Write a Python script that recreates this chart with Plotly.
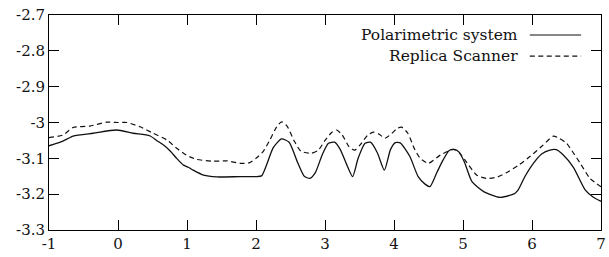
import plotly.graph_objects as go

# Polarimetric system (solid)
polar_x = [-1, -0.8, -0.65, -0.36, -0.02, 0.22, 0.46, 0.56, 0.66, 0.76, 0.85, 0.95, 1.02, 1.09,
           1.24, 1.43, 1.77, 2.0, 2.08, 2.15, 2.25, 2.37, 2.48, 2.6, 2.7, 2.78, 2.86, 2.96, 3.05,
           3.14, 3.22, 3.32, 3.40, 3.48, 3.58, 3.66, 3.76, 3.86, 3.95, 4.02, 4.09, 4.23, 4.35,
           4.45, 4.52, 4.62, 4.71, 4.8, 4.87, 4.94, 5.02, 5.13, 5.3, 5.54, 5.7, 5.75, 5.8, 5.9,
           6.02, 6.14, 6.26, 6.35, 6.45, 6.6, 6.77, 6.88, 7.0]
polar_y = [-3.065, -3.052, -3.038, -3.03, -3.021, -3.03, -3.037, -3.05, -3.063, -3.08, -3.1,
           -3.119, -3.125, -3.133, -3.147, -3.152, -3.151, -3.151, -3.149, -3.12, -3.07, -3.046,
           -3.055, -3.11, -3.15, -3.156, -3.14, -3.09, -3.058, -3.055, -3.075, -3.12, -3.151,
           -3.1, -3.058, -3.055, -3.085, -3.133, -3.075, -3.056, -3.057, -3.095, -3.151, -3.172,
           -3.179, -3.14, -3.105, -3.078, -3.075, -3.082, -3.11, -3.165, -3.193, -3.209, -3.202,
           -3.198, -3.188, -3.15, -3.114, -3.088, -3.077, -3.076, -3.09, -3.125, -3.188, -3.207,
           -3.22]

# Replica Scanner (dashed)
replica_x = [-1, -0.8, -0.65, -0.41, -0.16, 0, 0.13, 0.32, 0.51, 0.71, 0.85, 0.99, 1.14, 1.38,
             1.58, 1.77, 1.91, 2.0, 2.1, 2.2, 2.3, 2.37, 2.45, 2.55, 2.65, 2.8, 2.9, 3.0, 3.1,
             3.17, 3.25, 3.35, 3.43, 3.52, 3.62, 3.70, 3.78, 3.87, 3.97, 4.05, 4.11, 4.2, 4.3,
             4.38, 4.5, 4.67, 4.86, 4.95, 5.03, 5.2, 5.34, 5.5, 5.63, 5.8, 5.97, 6.15, 6.31, 6.4,
             6.5, 6.6, 6.7, 6.84, 7.0]
replica_y = [-3.042, -3.035, -3.014, -3.01, -2.999, -3.0, -3.0, -3.012, -3.03, -3.049, -3.072,
             -3.091, -3.103, -3.108, -3.107, -3.114, -3.112, -3.1, -3.082, -3.049, -3.012, -2.998,
             -3.01, -3.05, -3.08, -3.086, -3.078, -3.05, -3.027, -3.021, -3.035, -3.068, -3.077,
             -3.06, -3.035, -3.027, -3.032, -3.044, -3.03, -3.016, -3.013, -3.03, -3.075, -3.1,
             -3.114, -3.091, -3.075, -3.085, -3.105, -3.147, -3.156, -3.152, -3.14, -3.12,
             -3.095, -3.065, -3.038, -3.045, -3.058, -3.085, -3.114, -3.156, -3.179]

x_tick_vals = [-1, 0, 1, 2, 3, 4, 5, 6, 7]
x_tick_text = ["-1", "0", "1", "2", "3", "4", "5", "6", "7"]
y_tick_vals = [-3.3, -3.2, -3.1, -3.0, -2.9, -2.8, -2.7]
y_tick_text = ["-3.3", "-3.2", "-3.1", "-3", "-2.9", "-2.8", "-2.7"]

series_names = ["Polarimetric system", "Replica Scanner"]

FONT = "DejaVu Serif"
INK = "#111111"

fig = go.Figure()
fig.add_trace(go.Scatter(x=polar_x, y=polar_y, mode="lines", name=series_names[0],
                         line=dict(color=INK, width=1.3, shape="spline", smoothing=0.6)))
fig.add_trace(go.Scatter(x=replica_x, y=replica_y, mode="lines", name=series_names[1],
                         line=dict(color=INK, width=1.2, dash="5px,3.5px", shape="spline", smoothing=0.6)))

axis_common = dict(showline=True, mirror="ticks", linecolor="black", linewidth=1,
                   ticks="inside", ticklen=10, tickcolor="black", tickwidth=1,
                   showgrid=False, zeroline=False, automargin=False,
                   tickfont=dict(family=FONT, size=15, color=INK))

fig.update_xaxes(range=[-1, 7], tickvals=x_tick_vals, ticktext=x_tick_text, **axis_common)
fig.update_yaxes(range=[-3.3, -2.7], tickvals=y_tick_vals, ticktext=y_tick_text, **axis_common)

# Legend drawn as text on the left of the line samples (gnuplot style)
leg_rows = [(0.907, "solid"), (0.809, "5px,3.5px")]
for (yy, dash), name in zip(leg_rows, series_names):
    fig.add_annotation(xref="paper", yref="paper", x=0.853, y=yy, text=name,
                       showarrow=False, xanchor="right", yanchor="middle",
                       font=dict(family=FONT, size=15.5, color=INK))
    fig.add_shape(type="line", xref="paper", yref="paper", x0=0.871, x1=0.964, y0=yy, y1=yy,
                  line=dict(color=INK, width=1.2, dash=dash))

fig.update_layout(width=609, height=257, margin=dict(l=49, r=8, t=15, b=27),
                  paper_bgcolor="white", plot_bgcolor="white", showlegend=False,
                  hovermode=False,
                  font=dict(family=FONT, color=INK))

fig.write_html("out.html", config={"displayModeBar": False, "staticPlot": True},
               post_script="document.body.style.margin='0';document.body.style.overflow='hidden';")
